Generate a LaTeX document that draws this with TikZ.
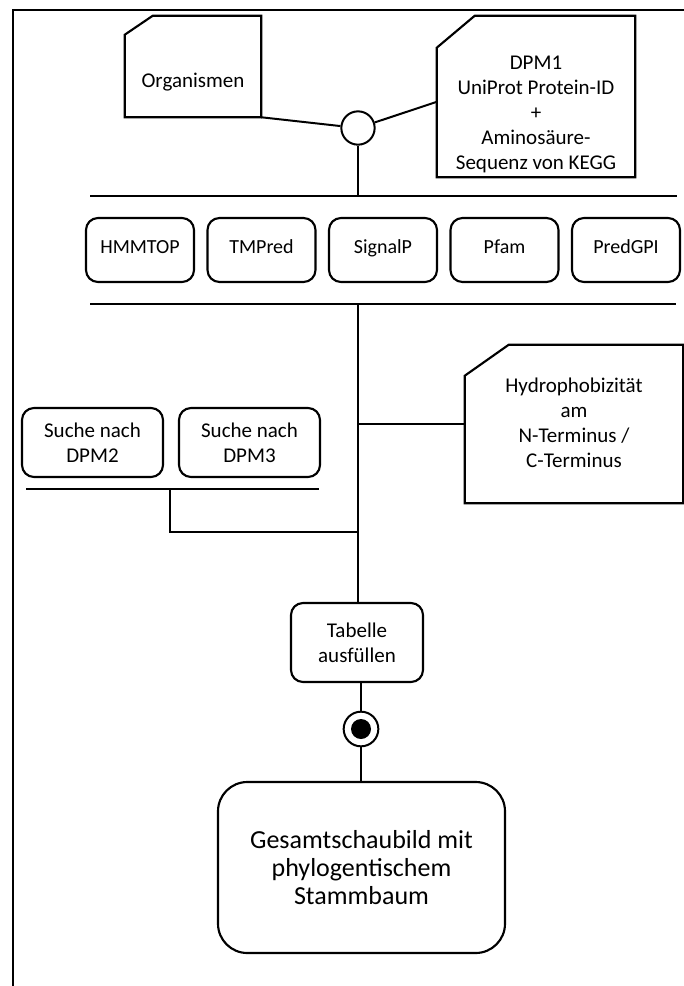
\documentclass[tikz,border=0pt]{standalone}
\usepackage{fontspec}
\setmainfont{Carlito}
\usetikzlibrary{calc}

\begin{document}
\begin{tikzpicture}[x=0.75pt,y=-0.75pt,
  every node/.style={font=\fontsize{15.75}{18.75}\selectfont},
  docbox/.style={inner sep=0pt},
  boxline/.style={line width=1.6pt,line join=miter},
  toolbox/.style={draw,line width=1.6pt,rounded corners=9pt,minimum width=81pt,minimum height=48pt,inner sep=0pt,text height=0.65em,text depth=0.2em,font=\fontsize{15}{18}\selectfont},
  stepbox/.style={draw,line width=1.6pt,rounded corners=9pt,align=center,inner sep=0pt},
  junction/.style={draw,circle,line width=1.5pt,minimum size=25pt,inner sep=0pt},
  wire/.style={line width=1.5pt},
  bar/.style={line width=1.6pt}]

\useasboundingbox (0,0) rectangle (684,986);

% Frame
\draw[line width=1.1pt] (13,986) -- (13,10) -- (684,10);

% Inputs
\node[docbox,minimum width=102pt,minimum height=75.75pt] (org) at (193,66.5) {};
\node (orgtext) at (193,82) {Organismen};
\draw[boxline] ([yshift=-14.25pt]org.north west) -- ([xshift=21pt]org.north west) -- (org.north east) -- (org.south east) -- (org.south west) -- cycle;

\node[docbox,minimum width=148.5pt,minimum height=120.75pt] (dpm1) at (536,96.5) {};
\node[align=center] (dpm1text) at (536,114) {DPM1\\UniProt Protein-ID\\+\\Aminosäure-\\Sequenz von KEGG};
\draw[boxline] ([yshift=-24pt]dpm1.north west) -- ([xshift=28.5pt]dpm1.north west) -- (dpm1.north east) -- (dpm1.south east) -- (dpm1.south west) -- cycle;

% Junction
\node[junction] (merge) at (358,128) {};
\draw[wire] (org.south east) -- (merge);
\draw[wire] (merge) -- ([yshift=-4pt]dpm1.west);

% Tools
\coordinate (topL) at (90,196);
\coordinate (topR) at (677,196);
\draw[bar] (topL) -- (topR);
\draw[wire] (merge) -- (merge |- topL);

\foreach \name/\label [count=\i] in {hmmtop/HMMTOP, tmpred/TMPred, signalp/SignalP, pfam/Pfam, predgpi/PredGPI}
  \node[toolbox] (\name) at ({18.5+121.5*\i},250) {\label};

\coordinate (botL) at (90,304);
\coordinate (botR) at (676,304);
\draw[bar] (botL) -- (botR);
\coordinate (hub) at (358,304);

% Side branches
\node[stepbox,minimum width=105.75pt,minimum height=51.75pt] (dpm2) at (92.5,442.5) {Suche nach\\DPM2};
\node[stepbox,minimum width=105.75pt,minimum height=51.75pt] (dpm3) at (249.5,442.5) {Suche nach\\DPM3};
\coordinate (sucheL) at (26,489);
\coordinate (sucheR) at (319,489);
\draw[bar] (sucheL) -- (sucheR);
\coordinate (sucheJoin) at (170,489);
\coordinate (trunkB) at (358,532);
\draw[wire] (sucheJoin) |- (trunkB);

\node[docbox,minimum width=163.5pt,minimum height=118.5pt] (hydro) at (574,424) {};
\node[align=center] (hydrotext) at (574,423) {Hydrophobizität\\am\\N-Terminus /\\C-Terminus};
\draw[boxline] ([yshift=-23.25pt]hydro.north west) -- ([xshift=33pt]hydro.north west) -- (hydro.north east) -- (hydro.south east) -- (hydro.south west) -- cycle;
\draw[wire] (hydro.west) -- (hydro.west -| hub);

% Result
\node[stepbox,minimum width=99pt,minimum height=59.25pt] (table) at (357,642.5) {Tabelle\\ausfüllen};
\draw[wire] (hub) -- (hub |- table.north);

\node[junction,minimum size=26pt] (done) at (361,729) {};
\node[circle,fill,minimum size=15pt,inner sep=0pt] (doneDot) at (done) {};
\draw[wire] (table.south -| done) -- (done);

\node[stepbox,rounded corners=22pt,minimum width=215.25pt,minimum height=128.25pt,font=\fontsize{19.5}{21}\selectfont] (overview) at (361.5,867.5) {Gesamtschaubild mit\\phylogentischem\\Stammbaum};
\draw[wire] (done) -- (done |- overview.north);

\end{tikzpicture}
\end{document}
